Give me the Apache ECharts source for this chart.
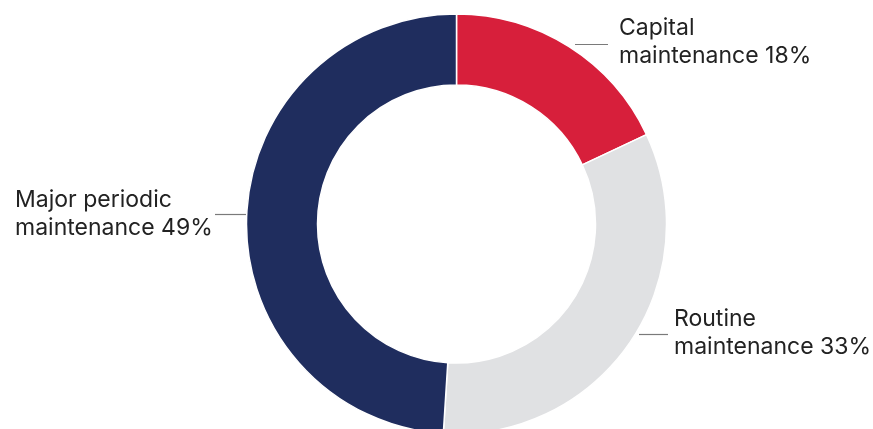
<!DOCTYPE html>
<html>
<head>
<meta charset="utf-8">
<script src="https://cdn.jsdelivr.net/npm/echarts@6/dist/echarts.min.js"></script>
<style>
  html, body { margin: 0; padding: 0; background: #ffffff; }
  #chart { width: 873px; height: 429px; }
</style>
</head>
<body>
<div id="chart"></div>
<script>
const categories = ['Capital maintenance', 'Routine maintenance', 'Major periodic maintenance'];
const shares = [18, 33, 49];
const sliceColors = ['#D71F3B', '#E0E1E3', '#1F2D5E'];

// label anchor layout (pixels): text x, text y (middle), align, leader line points
const labelPlacement = [
  { x: 619, y: 42, align: 'left', line: [[575, 44.5], [608, 44.5]] },
  { x: 674, y: 333, align: 'left', line: [[639, 334.5], [668, 334.5]] },
  { x: 15, y: 214, align: 'left', line: [[215, 214.5], [246, 214.5]] }
];

const chart = echarts.init(document.getElementById('chart'), null, { renderer: 'canvas' });
chart.setOption({
  animation: false,
  backgroundColor: '#ffffff',
  series: [{
    type: 'pie',
    center: [456.5, 224],
    radius: [139, 210],
    startAngle: 90,
    clockwise: true,
    avoidLabelOverlap: false,
    itemStyle: { borderColor: '#ffffff', borderWidth: 1.5 },
    label: {
      show: true,
      fontFamily: 'Inter',
      fontSize: 23,
      lineHeight: 28,
      color: '#222222',
      formatter: function (p) {
        return p.name.replace(' maintenance', '\nmaintenance') + ' ' + p.value + '%';
      }
    },
    labelLine: {
      show: true,
      length: 5,
      length2: 20,
      lineStyle: { color: '#7a7a7a', width: 1.2 }
    },
    labelLayout: function (params) {
      const l = labelPlacement[params.dataIndex];
      return {
        x: l.x,
        y: l.y,
        align: l.align,
        verticalAlign: 'middle',
        labelLinePoints: l.line
      };
    },
    data: categories.map(function (c, i) {
      return { name: c, value: shares[i], itemStyle: { color: sliceColors[i] } };
    })
  }]
});
</script>
</body>
</html>
